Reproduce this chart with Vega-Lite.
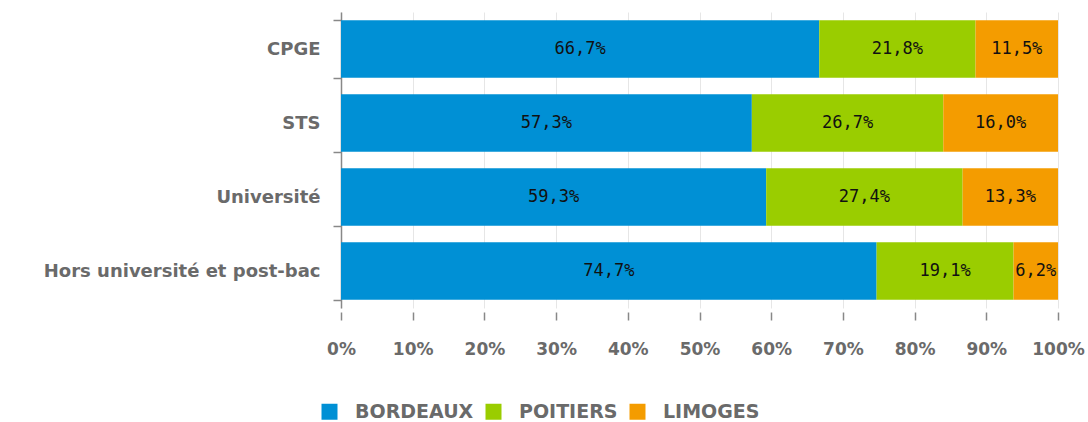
{
  "$schema": "https://vega.github.io/schema/vega-lite/v6.json",
  "autosize": {"type": "none"},
  "padding": {"left": 341, "top": 12, "right": 30, "bottom": 114},
  "width": 717,
  "height": 296,
  "background": "white",
  "config": {
    "view": {"stroke": null},
    "locale": {"number": {"decimal": ",", "thousands": " ", "grouping": [3], "currency": ["", " €"]}}
  },
  "data": {
    "values": [
      {"cat": "CPGE", "ville": "BORDEAUX", "k": 1, "v": 0.667},
      {"cat": "CPGE", "ville": "POITIERS", "k": 2, "v": 0.218},
      {"cat": "CPGE", "ville": "LIMOGES", "k": 3, "v": 0.115},
      {"cat": "STS", "ville": "BORDEAUX", "k": 1, "v": 0.573},
      {"cat": "STS", "ville": "POITIERS", "k": 2, "v": 0.267},
      {"cat": "STS", "ville": "LIMOGES", "k": 3, "v": 0.160},
      {"cat": "Université", "ville": "BORDEAUX", "k": 1, "v": 0.593},
      {"cat": "Université", "ville": "POITIERS", "k": 2, "v": 0.274},
      {"cat": "Université", "ville": "LIMOGES", "k": 3, "v": 0.133},
      {"cat": "Hors université et post-bac", "ville": "BORDEAUX", "k": 1, "v": 0.747},
      {"cat": "Hors université et post-bac", "ville": "POITIERS", "k": 2, "v": 0.191},
      {"cat": "Hors université et post-bac", "ville": "LIMOGES", "k": 3, "v": 0.062}
    ]
  },
  "transform": [
    {"stack": "v", "groupby": ["cat"], "sort": [{"field": "k", "order": "ascending"}], "as": ["v0", "v1"]},
    {"calculate": "(datum.v0 + datum.v1) / 2", "as": "mid"}
  ],
  "encoding": {
    "y": {
      "field": "cat",
      "type": "nominal",
      "sort": ["CPGE", "STS", "Université", "Hors université et post-bac"],
      "scale": {"paddingInner": 0.22, "paddingOuter": 0.11},
      "axis": {
        "title": null,
        "tickBand": "extent",
        "domainColor": "#888888",
        "domainWidth": 1.5,
        "tickColor": "#888888",
        "tickWidth": 1.5,
        "tickSize": 8,
        "labelPadding": 13,
        "labelLimit": 400,
        "labelFont": "DejaVu Sans",
        "labelFontWeight": "bold",
        "labelFontSize": 18,
        "labelColor": "#6a6a6a"
      }
    }
  },
  "layer": [
    {
      "mark": {"type": "bar"},
      "encoding": {
        "x": {
          "field": "v0",
          "type": "quantitative",
          "scale": {"domain": [0, 1], "nice": false},
          "axis": {
            "title": null,
            "format": ".0%",
            "values": [0, 0.1, 0.2, 0.3, 0.4, 0.5, 0.6, 0.7, 0.8, 0.9, 1],
            "domain": false,
            "offset": 4,
            "labelOverlap": false,
            "labelFlush": false,
            "tickColor": "#888888",
            "tickWidth": 1.5,
            "tickSize": 8,
            "labelPadding": 21,
            "labelFont": "DejaVu Sans",
            "labelFontWeight": "bold",
            "labelFontSize": 17,
            "labelColor": "#6a6a6a",
            "grid": true,
            "gridColor": "#e6e6e6",
            "gridWidth": 1
          }
        },
        "x2": {"field": "v1"},
        "color": {
          "field": "ville",
          "type": "nominal",
          "scale": {"domain": ["BORDEAUX", "POITIERS", "LIMOGES"], "range": ["#0090D5", "#9ACD00", "#F49C00"]},
          "legend": {
            "title": null,
            "orient": "none",
            "direction": "horizontal",
            "legendX": -21,
            "legendY": 390,
            "symbolType": "square",
            "symbolSize": 256,
            "symbolStrokeWidth": 0,
            "symbolOpacity": 1,
            "labelFont": "DejaVu Sans",
            "labelFontWeight": "bold",
            "labelFontSize": 19,
            "labelColor": "#6a6a6a",
            "labelOffset": 16,
            "columnPadding": 10
          }
        }
      }
    },
    {
      "mark": {"type": "text", "font": "DejaVu Sans Mono", "fontSize": 17, "color": "#111111"},
      "encoding": {
        "x": {"field": "mid", "type": "quantitative"},
        "text": {"field": "v", "type": "quantitative", "format": ".1%"}
      }
    }
  ]
}
